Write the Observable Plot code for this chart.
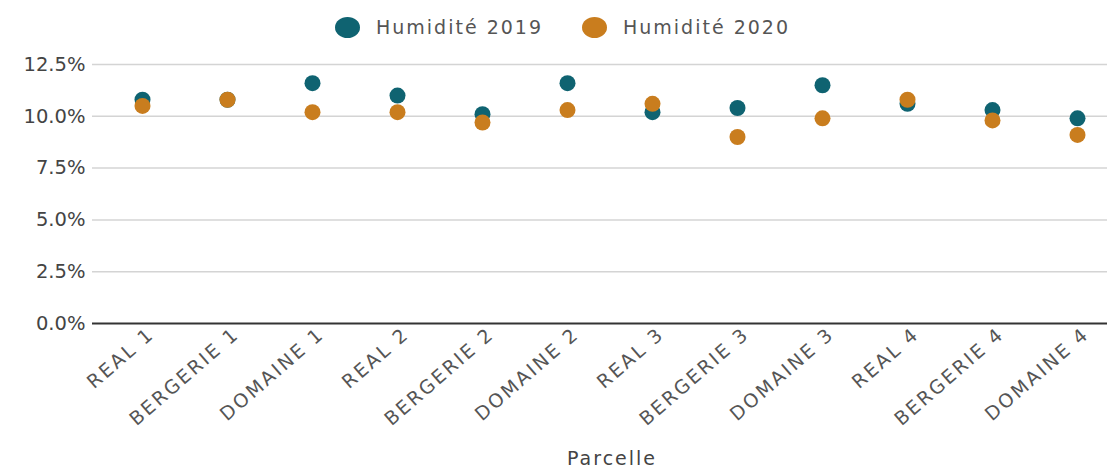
<!DOCTYPE html>
<html>
<head>
<meta charset="utf-8">
<script src="https://cdn.jsdelivr.net/npm/d3@7"></script>
<script src="https://cdn.jsdelivr.net/npm/@observablehq/plot@0.6"></script>
<style>
  html, body { margin: 0; padding: 0; background: #fff; }
  body { width: 1107px; height: 468px; overflow: hidden; font-family: "DejaVu Sans", Verdana, sans-serif; }
  #legend { height: 48px; position: relative; }
  .item { position: absolute; top: 16px; display: flex; align-items: center; color: #555; font-size: 19px; letter-spacing: 2px; }
  .sw { width: 25px; height: 21px; border-radius: 50%; margin-right: 16px; }
  g[aria-label="x-axis tick label"] { letter-spacing: 2.4px; }
  g[aria-label="text"] { letter-spacing: 2px; }
</style>
</head>
<body>
<div id="legend"></div>
<div id="chart"></div>
<script>
const parcelles = ["REAL 1","BERGERIE 1","DOMAINE 1","REAL 2","BERGERIE 2","DOMAINE 2","REAL 3","BERGERIE 3","DOMAINE 3","REAL 4","BERGERIE 4","DOMAINE 4"];
const humidite2019 = [10.8, 10.8, 11.6, 11.0, 10.1, 11.6, 10.2, 10.4, 11.5, 10.6, 10.3, 9.9];
const humidite2020 = [10.5, 10.8, 10.2, 10.2, 9.7, 10.3, 10.6, 9.0, 9.9, 10.8, 9.8, 9.1];
const seriesNames = ["Humidité 2019", "Humidité 2020"];
const seriesColors = ["#0f6371", "#c97d1e"];
const yTicks = [0, 2.5, 5, 7.5, 10, 12.5];

const data = [];
parcelles.forEach((p, i) => {
  data.push({parcelle: p, serie: seriesNames[0], v: humidite2019[i]});
  data.push({parcelle: p, serie: seriesNames[1], v: humidite2020[i]});
});

// legend
const leg = document.getElementById("legend");
const legX = [335, 582];
seriesNames.forEach((s, i) => {
  const d = document.createElement("div");
  d.className = "item";
  d.style.left = legX[i] + "px";
  const sw = document.createElement("span");
  sw.className = "sw";
  sw.style.background = seriesColors[i];
  d.appendChild(sw);
  d.appendChild(document.createTextNode(s));
  leg.appendChild(d);
});

const chart = Plot.plot({
  width: 1107,
  height: 420,
  marginLeft: 92,
  marginRight: 0,
  marginTop: 16,
  marginBottom: 145,
  style: {fontFamily: "DejaVu Sans, Verdana, sans-serif", background: "#fff"},
  x: {type: "point", domain: parcelles, range: [141, 1078], padding: 0},
  y: {domain: [0, 12.5], ticks: yTicks},
  color: {domain: seriesNames, range: seriesColors},
  marks: [
    Plot.ruleY(yTicks.filter(d => d > 0), {stroke: "#d4d4d4", strokeWidth: 1.5}),
    Plot.ruleY([0], {stroke: "#333", strokeWidth: 2}),
    Plot.axisY({
      ticks: yTicks, tickSize: 0, tickPadding: 7, label: null,
      tickFormat: d => d.toFixed(1) + "%",
      fontSize: 19.5, fill: "#444"
    }),
    Plot.axisX({
      tickSize: 0, tickRotate: -41, tickPadding: 8, dx: 9, label: null,
      fontSize: 19, fill: "#555"
    }),
    Plot.text(["Parcelle"], {frameAnchor: "bottom", dx: 12, dy: 141, text: d => d, fontSize: 19, fill: "#444"}),
    Plot.dot(data, {x: "parcelle", y: "v", fill: "serie", r: 8})
  ]
});
document.getElementById("chart").appendChild(chart);
</script>
</body>
</html>
